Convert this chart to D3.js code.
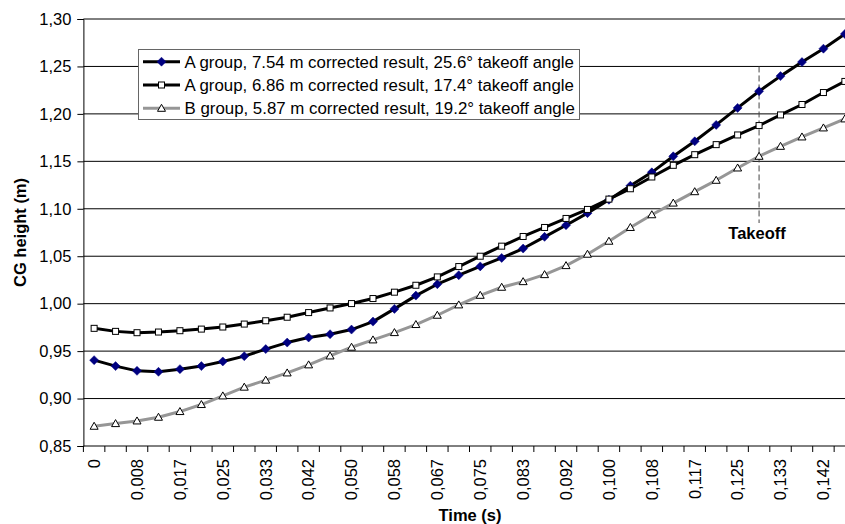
<!DOCTYPE html>
<html>
<head>
<meta charset="utf-8">
<script src="https://cdn.jsdelivr.net/npm/d3@7"></script>
<style>
  html, body { margin: 0; padding: 0; background: #fff; }
  svg { display: block; font-family: "Liberation Sans", Arial, sans-serif; }
</style>
</head>
<body>
<svg id="chart" width="845" height="524"></svg>
<script>
// ---- data ----
const categories = ["0","0,004","0,008","0,013","0,017","0,021","0,025","0,029","0,033","0,038",
  "0,042","0,046","0,050","0,054","0,058","0,063","0,067","0,071","0,075","0,079",
  "0,083","0,088","0,092","0,096","0,100","0,104","0,108","0,113","0,117","0,121",
  "0,125","0,129","0,133","0,138","0,142","0,146"];
const labeledCategories = ["0","0,008","0,017","0,025","0,033","0,042","0,050","0,058","0,067",
  "0,075","0,083","0,092","0,100","0,108","0,117","0,125","0,133","0,142"];
const seriesNames = [
  "A group, 7.54 m corrected result, 25.6° takeoff angle",
  "A group, 6.86 m corrected result, 17.4° takeoff angle",
  "B group, 5.87 m corrected result, 19.2° takeoff angle"
];
const groupA754 = [0.9405,0.9342,0.9292,0.9282,0.9310,0.9342,0.9391,0.9447,0.9521,0.9590,
  0.9643,0.9678,0.9727,0.9811,0.9945,1.0085,1.0205,1.0300,1.0393,1.0482,
  1.0581,1.0704,1.0827,1.0954,1.1095,1.1243,1.1384,1.1553,1.1711,1.1884,
  1.2063,1.2239,1.2398,1.2546,1.2687,1.2842];
const groupA686 = [0.9740,0.9708,0.9694,0.9701,0.9715,0.9732,0.9754,0.9785,0.9820,0.9857,
  0.9906,0.9955,1.0001,1.0054,1.0121,1.0194,1.0282,1.0391,1.0500,1.0606,
  1.0708,1.0803,1.0898,1.0993,1.1102,1.1211,1.1335,1.1458,1.1570,1.1676,
  1.1778,1.1877,1.1989,1.2099,1.2225,1.2342];
const groupB587 = [0.8708,0.8736,0.8764,0.8803,0.8863,0.8937,0.9028,0.9120,0.9194,0.9270,
  0.9355,0.9449,0.9541,0.9618,0.9695,0.9780,0.9878,0.9987,1.0088,1.0173,
  1.0232,1.0306,1.0401,1.0521,1.0658,1.0803,1.0937,1.1060,1.1180,1.1300,
  1.1430,1.1553,1.1658,1.1757,1.1852,1.1947];
const yTicks = [0.85,0.90,0.95,1.00,1.05,1.10,1.15,1.20,1.25,1.30];
const takeoffCategory = "0,129";
const takeoffRange = [1.25, 1.085];
const takeoffLabel = "Takeoff";
const xTitle = "Time (s)";
const yTitle = "CG height (m)";

(function () {
// ---- layout ----
const svg = d3.select("#chart");
const plotLeft = 83.4, plotTop = 19, plotBottom = 446;
const bandW = 21.45;
const x = d3.scaleBand().domain(categories).range([plotLeft, plotLeft + bandW * categories.length]).padding(0);
const y = d3.scaleLinear().domain([0.85, 1.30]).range([plotBottom, plotTop]);
const cx = c => x(c) + x.bandwidth() / 2;
const fmt = v => d3.format(".2f")(v).replace(".", ",");
const FS = 16.5;

// gridlines
svg.append("g").selectAll("line").data(yTicks.filter(v => v > 0.85)).join("line")
  .attr("x1", plotLeft).attr("x2", x.range()[1])
  .attr("y1", d => y(d)).attr("y2", d => y(d))
  .attr("stroke", "#000").attr("stroke-width", 1);

// y axis
const yAxis = svg.append("g").attr("transform", `translate(${plotLeft},0)`)
  .call(d3.axisLeft(y).tickValues(yTicks).tickFormat(fmt).tickSize(6).tickPadding(6));
yAxis.select(".domain").attr("stroke", "#000");
yAxis.selectAll("text").attr("font-size", FS).attr("fill", "#000").attr("font-family", "Liberation Sans, Arial, sans-serif");

// x axis (labels)
const xAxis = svg.append("g").attr("transform", `translate(0,${plotBottom})`)
  .call(d3.axisBottom(x).tickSize(0).tickFormat(d => labeledCategories.includes(d) ? d : ""));
xAxis.select(".domain").remove();
xAxis.selectAll("text")
  .attr("font-size", FS).attr("fill", "#000").attr("font-family", "Liberation Sans, Arial, sans-serif")
  .attr("transform", "rotate(-90)")
  .attr("text-anchor", "end")
  .attr("x", -13).attr("y", 0).attr("dy", "0.35em");
svg.append("line").attr("x1", plotLeft).attr("x2", x.range()[1]).attr("y1", plotBottom).attr("y2", plotBottom)
  .attr("stroke", "#000");
svg.append("g").selectAll("line").data(categories).join("line")
  .attr("x1", d => x(d)).attr("x2", d => x(d)).attr("y1", plotBottom).attr("y2", plotBottom + 6)
  .attr("stroke", "#000");

// takeoff marker
svg.append("line")
  .attr("x1", cx(takeoffCategory)).attr("x2", cx(takeoffCategory))
  .attr("y1", y(takeoffRange[0])).attr("y2", y(takeoffRange[1]))
  .attr("stroke", "#444").attr("stroke-width", 1).attr("stroke-dasharray", "6,3");
svg.append("text").attr("x", cx(takeoffCategory) - 2).attr("y", y(takeoffRange[1]) + 16)
  .attr("text-anchor", "middle").attr("font-size", FS).attr("font-weight", "bold").text(takeoffLabel);

// series
const series = [
  {name: seriesNames[0], values: groupA754, line: "#000", marker: "diamond"},
  {name: seriesNames[1], values: groupA686, line: "#000", marker: "square"},
  {name: seriesNames[2], values: groupB587, line: "#969696", marker: "triangle"}
];
function drawMarker(g, type, px, py) {
  if (type === "diamond") {
    g.append("path").attr("d", `M${px},${py-4.5}L${px+4.5},${py}L${px},${py+4.5}L${px-4.5},${py}Z`)
      .attr("fill", "#000080").attr("stroke", "#000080").attr("stroke-width", 0.5);
  } else if (type === "square") {
    g.append("rect").attr("x", px - 3).attr("y", py - 3).attr("width", 6).attr("height", 6)
      .attr("fill", "#fff").attr("stroke", "#000").attr("stroke-width", 1);
  } else {
    g.append("path").attr("d", `M${px},${py-4}L${px+4},${py+3}L${px-4},${py+3}Z`)
      .attr("fill", "#fff").attr("stroke", "#000").attr("stroke-width", 1);
  }
}
const line = d3.line().x((d, i) => cx(categories[i])).y(d => y(d));
series.forEach(s => {
  const g = svg.append("g");
  g.append("path").attr("d", line(s.values)).attr("fill", "none")
    .attr("stroke", s.line).attr("stroke-width", 3).attr("stroke-linejoin", "round");
  s.values.forEach((v, i) => drawMarker(g, s.marker, cx(categories[i]), y(v)));
});

// legend
const lg = svg.append("g");
lg.append("rect").attr("x", 138.5).attr("y", 49.5).attr("width", 441).attr("height", 70)
  .attr("fill", "#fff").attr("stroke", "#666").attr("stroke-width", 1);
const rowY = [61.7, 85, 108.3];
series.forEach((s, i) => {
  lg.append("line").attr("x1", 143).attr("x2", 180).attr("y1", rowY[i]).attr("y2", rowY[i])
    .attr("stroke", s.line).attr("stroke-width", 3);
  drawMarker(lg, s.marker, 161.5, rowY[i]);
  lg.append("text").attr("x", 184.5).attr("y", rowY[i]).attr("dy", "0.35em")
    .attr("font-size", 16.85).attr("fill", "#000").text(s.name);
});

// axis titles
svg.append("text").attr("x", 470).attr("y", 521).attr("text-anchor", "middle")
  .attr("font-size", FS).attr("font-weight", "bold").text(xTitle);
svg.append("text").attr("transform", `translate(26,${(plotTop + plotBottom) / 2}) rotate(-90)`)
  .attr("text-anchor", "middle").attr("font-size", FS).attr("font-weight", "bold").text(yTitle);
})();
</script>
</body>
</html>
